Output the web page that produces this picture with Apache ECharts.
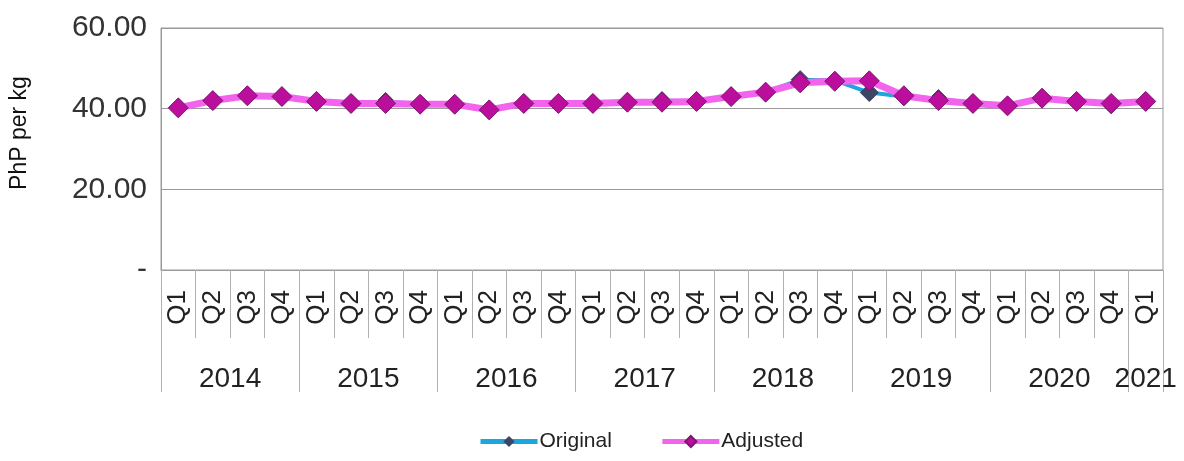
<!DOCTYPE html>
<html>
<head>
<meta charset="utf-8">
<script src="https://cdn.jsdelivr.net/npm/echarts@6/dist/echarts.min.js"></script>
<style>
html,body{margin:0;padding:0;background:#fff;}
#chart{width:1184px;height:461px;}
</style>
</head>
<body>
<div id="chart"></div>
<script>
const quarters = ['Q1','Q2','Q3','Q4','Q1','Q2','Q3','Q4','Q1','Q2','Q3','Q4','Q1','Q2','Q3','Q4','Q1','Q2','Q3','Q4','Q1','Q2','Q3','Q4','Q1','Q2','Q3','Q4','Q1'];
const years = ['2014','2015','2016','2017','2018','2019','2020','2021'];
const yearQuarterCounts = [4,4,4,4,4,4,4,1];
const original = [40.2,42.0,43.2,43.0, 41.8,41.3,41.8,41.1, 41.1,39.7,41.3,41.3, 41.3,41.6,42.0,41.8, 43.0,44.1,47.2,47.0, 44.0,43.0,42.5,41.3, 40.7,42.6,41.8,41.0, 41.8];
const adjusted = [40.2,42.0,43.2,43.0, 41.8,41.3,41.3,41.1, 41.1,39.7,41.3,41.3, 41.3,41.6,41.6,41.8, 43.0,44.1,46.4,46.8, 46.9,43.2,42.0,41.3, 40.7,42.6,41.8,41.3, 41.8];
const yTicks = [0,20,40,60];

// Year axis built on half-quarter slots (boundaries and centres)
const nQ = quarters.length;
const halfSlots = nQ * 2 + 1;
const yearAxisData = new Array(halfSlots).fill('');
const yearBoundaries = new Set([0]);
let start = 0;
years.forEach((y, i) => {
  const c = yearQuarterCounts[i];
  const centre = c === 1 ? start * 2 + 1 : start * 2 + c; // half-slot index
  yearAxisData[centre] = y;
  start += c;
  yearBoundaries.add(start * 2);
});

const FONT = '"Liberation Sans", Arial, sans-serif';
const chart = echarts.init(document.getElementById('chart'));
chart.setOption({
  animation: false,
  backgroundColor: '#fff',
  grid: { left: 160, right: 21, top: 28, bottom: 191, show: true, borderColor: '#9a9a9a', borderWidth: 1 },
  xAxis: [
    {
      type: 'category', data: quarters, boundaryGap: true, position: 'bottom',
      axisLine: { show: true, lineStyle: { color: '#9a9a9a', width: 1 } },
      axisTick: { show: true, interval: 0, length: 68, lineStyle: { color: '#b0b0b0' } },
      axisLabel: { interval: 0, rotate: 90, margin: 20, fontSize: 26, color: '#222', fontFamily: FONT }
    },
    {
      type: 'category', data: yearAxisData, boundaryGap: false, position: 'bottom',
      axisLine: { show: false },
      axisTick: { show: true, length: 122, interval: (i) => yearBoundaries.has(i), lineStyle: { color: '#b0b0b0' } },
      axisLabel: { interval: 0, margin: 95, fontSize: 28, color: '#222', fontFamily: FONT }
    }
  ],
  yAxis: {
    type: 'value', min: 0, max: 60, interval: 20,
    name: 'PhP per kg', nameLocation: 'middle', nameGap: 130, nameRotate: 90,
    nameTextStyle: { fontSize: 23, color: '#111', fontFamily: FONT, padding: [0, 0, 0, 32] },
    axisLine: { show: true, lineStyle: { color: '#9a9a9a' } },
    axisTick: { show: false },
    splitLine: { show: true, lineStyle: { color: '#9a9a9a', width: 1 } },
    axisLabel: {
      fontSize: 30, color: '#333', margin: 14, fontFamily: FONT,
      formatter: (v) => yTicks.includes(v) ? (v === 0 ? '-' : v.toFixed(2)) : ''
    }
  },
  legend: {
    bottom: 4, left: 473, itemGap: 48, itemWidth: 57, itemHeight: 14,
    textStyle: { fontSize: 21, color: '#222', fontFamily: FONT, padding: [0, 0, 0, -3] },
    lineStyle: { width: 5 },
    data: ['Original', 'Adjusted']
  },
  series: [
    {
      name: 'Original', type: 'line', data: original, xAxisIndex: 0,
      symbol: 'diamond', symbolSize: 18,
      lineStyle: { color: '#1ca6dc', width: 4 },
      itemStyle: { color: '#3c4563', borderColor: '#3c4563' },
      z: 2
    },
    {
      name: 'Adjusted', type: 'line', data: adjusted, xAxisIndex: 0,
      symbol: 'diamond', symbolSize: 20,
      lineStyle: { color: '#f364ee', width: 7 },
      itemStyle: { color: '#bb0e9c', borderColor: '#7d1670', borderWidth: 1 },
      z: 3
    }
  ]
});
</script>
</body>
</html>
